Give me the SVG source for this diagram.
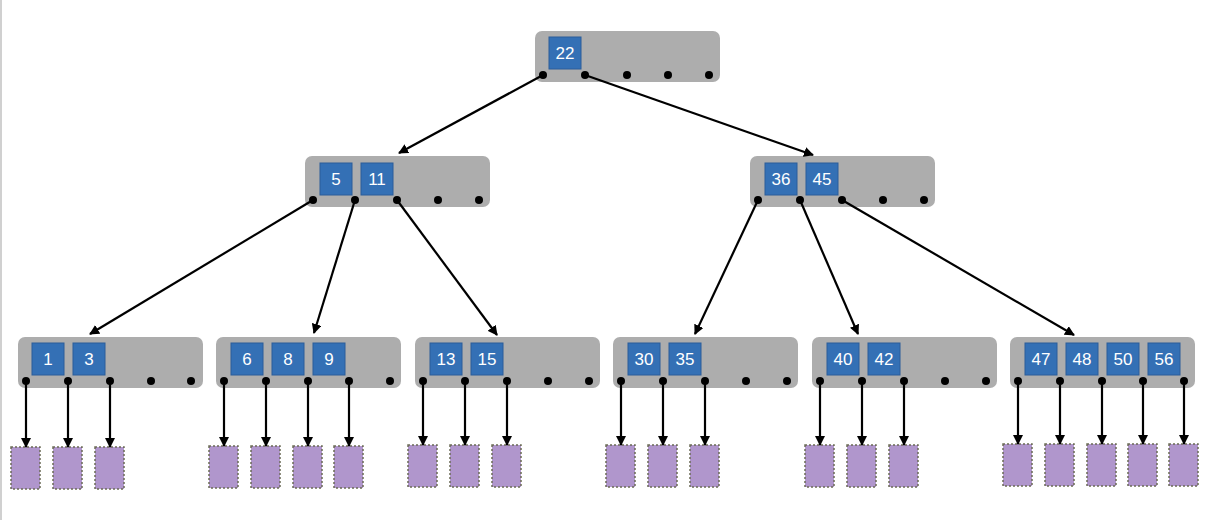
<svg xmlns="http://www.w3.org/2000/svg" width="1206" height="520" viewBox="0 0 1206 520">
<style>
.n{fill:#adadad;}
.k{fill:#3470b5;stroke:#2a5c9a;stroke-width:1;}
.t{font-family:"Liberation Sans",Arial,sans-serif;font-size:17px;fill:#fff;text-anchor:middle;}
.d{fill:#000;}
.p{fill:#b096cc;stroke:#6b6b55;stroke-width:1.5;stroke-dasharray:2 2;}
.c line{stroke:#000;stroke-width:2.2;marker-end:url(#a);}
</style>
<defs><marker id="a" markerWidth="10" markerHeight="10" refX="9" refY="5" orient="auto" markerUnits="userSpaceOnUse" viewBox="0 0 10 10"><path d="M0,0L10,5L0,10z"/></marker></defs>
<rect width="1206" height="520" fill="#fff"/>
<line x1="1" y1="0" x2="1" y2="520" stroke="#d0d0d0" stroke-width="2"/>
<g id="root"><rect class="n" x="535" y="31" width="185" height="51" rx="7"/><rect class="k" x="549" y="37" width="32" height="32"/><text class="t" x="565" y="59">22</text>
<circle class="d" cx="543" cy="75" r="4"/><circle class="d" cx="585" cy="75" r="4"/><circle class="d" cx="627" cy="75" r="4"/><circle class="d" cx="668" cy="75" r="4"/><circle class="d" cx="709" cy="75" r="4"/></g>
<g id="m1"><rect class="n" x="305" y="156" width="185" height="51" rx="7"/><rect class="k" x="320" y="163" width="32" height="32"/><text class="t" x="336" y="185">5</text><rect class="k" x="361" y="163" width="32" height="32"/><text class="t" x="377" y="185">11</text>
<circle class="d" cx="313" cy="200" r="4"/><circle class="d" cx="355" cy="200" r="4"/><circle class="d" cx="397" cy="200" r="4"/><circle class="d" cx="438" cy="200" r="4"/><circle class="d" cx="479" cy="200" r="4"/></g>
<g id="m2"><rect class="n" x="750" y="156" width="185" height="51" rx="7"/><rect class="k" x="765" y="163" width="32" height="32"/><text class="t" x="781" y="185">36</text><rect class="k" x="806" y="163" width="32" height="32"/><text class="t" x="822" y="185">45</text>
<circle class="d" cx="758" cy="200" r="4"/><circle class="d" cx="800" cy="200" r="4"/><circle class="d" cx="842" cy="200" r="4"/><circle class="d" cx="883" cy="200" r="4"/><circle class="d" cx="924" cy="200" r="4"/></g>
<g id="l1"><rect class="n" x="18" y="337" width="185" height="51" rx="7"/><rect class="k" x="32" y="343" width="32" height="32"/><text class="t" x="48" y="365">1</text><rect class="k" x="73" y="343" width="32" height="32"/><text class="t" x="89" y="365">3</text>
<circle class="d" cx="26" cy="381" r="4"/><circle class="d" cx="68" cy="381" r="4"/><circle class="d" cx="110" cy="381" r="4"/><circle class="d" cx="151" cy="381" r="4"/><circle class="d" cx="191" cy="381" r="4"/></g>
<g id="l2"><rect class="n" x="216" y="337" width="185" height="51" rx="7"/><rect class="k" x="231" y="343" width="32" height="32"/><text class="t" x="247" y="365">6</text><rect class="k" x="272" y="343" width="32" height="32"/><text class="t" x="288" y="365">8</text><rect class="k" x="313" y="343" width="32" height="32"/><text class="t" x="329" y="365">9</text>
<circle class="d" cx="224" cy="381" r="4"/><circle class="d" cx="266" cy="381" r="4"/><circle class="d" cx="308" cy="381" r="4"/><circle class="d" cx="349" cy="381" r="4"/><circle class="d" cx="390" cy="381" r="4"/></g>
<g id="l3"><rect class="n" x="415" y="337" width="185" height="51" rx="7"/><rect class="k" x="430" y="343" width="32" height="32"/><text class="t" x="446" y="365">13</text><rect class="k" x="471" y="343" width="32" height="32"/><text class="t" x="487" y="365">15</text>
<circle class="d" cx="423" cy="381" r="4"/><circle class="d" cx="465" cy="381" r="4"/><circle class="d" cx="507" cy="381" r="4"/><circle class="d" cx="548" cy="381" r="4"/><circle class="d" cx="589" cy="381" r="4"/></g>
<g id="l4"><rect class="n" x="613" y="337" width="185" height="51" rx="7"/><rect class="k" x="628" y="343" width="32" height="32"/><text class="t" x="644" y="365">30</text><rect class="k" x="669" y="343" width="32" height="32"/><text class="t" x="685" y="365">35</text>
<circle class="d" cx="621" cy="381" r="4"/><circle class="d" cx="663" cy="381" r="4"/><circle class="d" cx="705" cy="381" r="4"/><circle class="d" cx="746" cy="381" r="4"/><circle class="d" cx="787" cy="381" r="4"/></g>
<g id="l5"><rect class="n" x="812" y="337" width="185" height="51" rx="7"/><rect class="k" x="827" y="343" width="32" height="32"/><text class="t" x="843" y="365">40</text><rect class="k" x="868" y="343" width="32" height="32"/><text class="t" x="884" y="365">42</text>
<circle class="d" cx="820" cy="381" r="4"/><circle class="d" cx="862" cy="381" r="4"/><circle class="d" cx="904" cy="381" r="4"/><circle class="d" cx="945" cy="381" r="4"/><circle class="d" cx="986" cy="381" r="4"/></g>
<g id="l6"><rect class="n" x="1010" y="337" width="185" height="51" rx="7"/><rect class="k" x="1025" y="343" width="32" height="32"/><text class="t" x="1041" y="365">47</text><rect class="k" x="1066" y="343" width="32" height="32"/><text class="t" x="1082" y="365">48</text><rect class="k" x="1107" y="343" width="32" height="32"/><text class="t" x="1123" y="365">50</text><rect class="k" x="1148" y="343" width="32" height="32"/><text class="t" x="1164" y="365">56</text>
<circle class="d" cx="1018" cy="381" r="4"/><circle class="d" cx="1060" cy="381" r="4"/><circle class="d" cx="1102" cy="381" r="4"/><circle class="d" cx="1143" cy="381" r="4"/><circle class="d" cx="1184" cy="381" r="4"/></g>
<g id="pages">
<rect class="p" x="11" y="447" width="29" height="42"/><rect class="p" x="53" y="447" width="29" height="42"/><rect class="p" x="95" y="447" width="29" height="42"/>
<rect class="p" x="209" y="446" width="29" height="42"/><rect class="p" x="251" y="446" width="29" height="42"/><rect class="p" x="293" y="446" width="29" height="42"/><rect class="p" x="334" y="446" width="29" height="42"/>
<rect class="p" x="408" y="445" width="29" height="42"/><rect class="p" x="450" y="445" width="29" height="42"/><rect class="p" x="492" y="445" width="29" height="42"/>
<rect class="p" x="606" y="445" width="29" height="42"/><rect class="p" x="648" y="445" width="29" height="42"/><rect class="p" x="690" y="445" width="29" height="42"/>
<rect class="p" x="805" y="445" width="29" height="42"/><rect class="p" x="847" y="445" width="29" height="42"/><rect class="p" x="889" y="445" width="29" height="42"/>
<rect class="p" x="1003" y="444" width="29" height="42"/><rect class="p" x="1045" y="444" width="29" height="42"/><rect class="p" x="1087" y="444" width="29" height="42"/><rect class="p" x="1128" y="444" width="29" height="42"/><rect class="p" x="1169" y="444" width="29" height="42"/>
</g>
<g class="c" id="connectors">
<line x1="543" y1="75" x2="399" y2="153"/><line x1="585" y1="75" x2="813" y2="155"/>
<line x1="313" y1="200" x2="90" y2="334"/><line x1="355" y1="200" x2="314" y2="333"/><line x1="397" y1="200" x2="497" y2="335"/>
<line x1="758" y1="200" x2="695" y2="334"/><line x1="800" y1="200" x2="858" y2="334"/><line x1="842" y1="200" x2="1074" y2="335"/>
<line x1="26" y1="381" x2="26" y2="447"/><line x1="68" y1="381" x2="68" y2="447"/><line x1="110" y1="381" x2="110" y2="447"/>
<line x1="224" y1="381" x2="224" y2="446"/><line x1="266" y1="381" x2="266" y2="446"/><line x1="308" y1="381" x2="308" y2="446"/><line x1="349" y1="381" x2="349" y2="446"/>
<line x1="423" y1="381" x2="423" y2="445"/><line x1="465" y1="381" x2="465" y2="445"/><line x1="507" y1="381" x2="507" y2="445"/>
<line x1="621" y1="381" x2="621" y2="445"/><line x1="663" y1="381" x2="663" y2="445"/><line x1="705" y1="381" x2="705" y2="445"/>
<line x1="820" y1="381" x2="820" y2="445"/><line x1="862" y1="381" x2="862" y2="445"/><line x1="904" y1="381" x2="904" y2="445"/>
<line x1="1018" y1="381" x2="1018" y2="444"/><line x1="1060" y1="381" x2="1060" y2="444"/><line x1="1102" y1="381" x2="1102" y2="444"/><line x1="1143" y1="381" x2="1143" y2="444"/><line x1="1184" y1="381" x2="1184" y2="444"/>
</g>
</svg>
